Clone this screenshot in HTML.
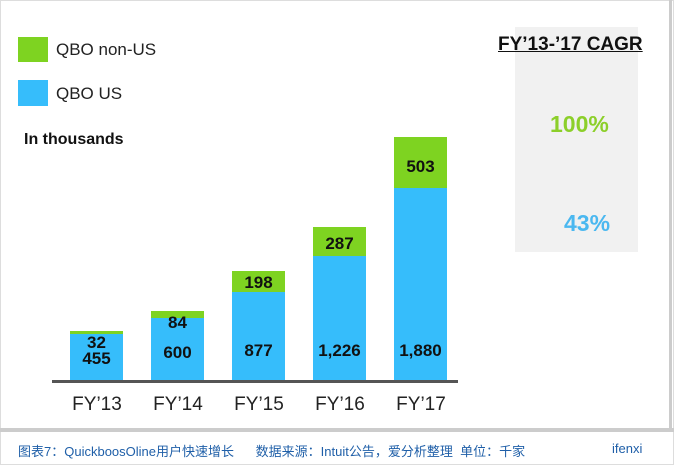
<!DOCTYPE html>
<html><head><meta charset="utf-8"><style>
body{margin:0;width:674px;height:465px;background:#fff;position:relative;overflow:hidden;font-family:"Liberation Sans","Noto Sans CJK SC",sans-serif}
.a{position:absolute}
.bar{position:absolute;width:53px}
.b{background:#36bdfb}.g{background:#7ed321}
.lbl{position:absolute;width:53px;text-align:center;font-weight:bold;font-size:17px;color:#111}
.x{position:absolute;width:70px;text-align:center;font-size:19px;color:#222;top:394px}
</style></head><body>
<div class="a" style="left:0;top:0;width:672px;height:463px;border:1px solid #ddd"></div>
<div class="a" style="right:2px;top:0;width:3px;height:430px;background:#ccc"></div>
<div class="a g" style="left:18px;top:37px;width:30px;height:25px"></div>
<div class="a" style="left:56px;top:40px;font-size:17px;color:#222">QBO non-US</div>
<div class="a b" style="left:18px;top:80px;width:30px;height:26px"></div>
<div class="a" style="left:56px;top:84px;font-size:17px;color:#222">QBO US</div>
<div class="a" style="left:24px;top:131px;font-size:16px;font-weight:bold;color:#111">In thousands</div>
<div class="a" style="left:515px;top:27px;width:123px;height:225px;background:#f1f1f1"></div>
<div class="a" style="left:498px;top:34px;font-size:19px;font-weight:bold;color:#111;text-decoration:underline">FY’13-’17 CAGR</div>
<div class="a" style="left:550px;top:111px;font-size:23px;font-weight:bold;color:#8ccf2a">100%</div>
<div class="a" style="left:564px;top:210px;font-size:23px;font-weight:bold;color:#4bb8f0">43%</div>

<div class="bar g" style="left:70px;top:331px;height:3px"></div><div class="bar b" style="left:70px;top:334px;height:47px"></div>
<div class="bar g" style="left:151px;top:311px;height:7px"></div><div class="bar b" style="left:151px;top:318px;height:63px"></div>
<div class="bar g" style="left:232px;top:271px;height:21px"></div><div class="bar b" style="left:232px;top:292px;height:89px"></div>
<div class="bar g" style="left:313px;top:227px;height:29px"></div><div class="bar b" style="left:313px;top:256px;height:125px"></div>
<div class="bar g" style="left:394px;top:137px;height:51px"></div><div class="bar b" style="left:394px;top:188px;height:193px"></div>
<div class="a" style="left:52px;top:380px;width:406px;height:3px;background:#555"></div>

<div class="lbl" style="left:70px;top:333px">32</div><div class="lbl" style="left:70px;top:349px">455</div>
<div class="lbl" style="left:151px;top:313px">84</div><div class="lbl" style="left:151px;top:343px">600</div>
<div class="lbl" style="left:232px;top:273px">198</div><div class="lbl" style="left:232px;top:341px">877</div>
<div class="lbl" style="left:313px;top:234px">287</div><div class="lbl" style="left:313px;top:341px">1,226</div>
<div class="lbl" style="left:394px;top:157px">503</div><div class="lbl" style="left:394px;top:341px">1,880</div>

<div class="x" style="left:62px">FY’13</div><div class="x" style="left:143px">FY’14</div><div class="x" style="left:224px">FY’15</div><div class="x" style="left:305px">FY’16</div><div class="x" style="left:386px">FY’17</div>

<div class="a" style="left:0;top:428px;width:674px;height:4px;background:#ccc"></div>
<div class="a" style="left:18px;top:441px;font-size:13px;color:#1f5fa8;white-space:nowrap">图表7：QuickboosOline用户快速增长&nbsp;&nbsp;&nbsp;&nbsp;&nbsp;&nbsp;数据来源：Intuit公告，爱分析整理&nbsp;&nbsp;单位：千家</div>
<div class="a" style="left:612px;top:441px;font-size:13px;color:#1f5fa8">ifenxi</div>
</body></html>
